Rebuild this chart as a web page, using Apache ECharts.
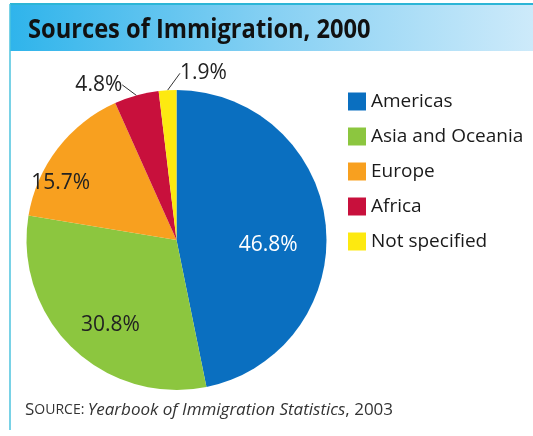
<!DOCTYPE html>
<html><head><meta charset="utf-8">
<script src="https://cdn.jsdelivr.net/npm/echarts@6/dist/echarts.min.js"></script>
<style>html,body{margin:0;padding:0;background:#fff}#c{width:533px;height:436px}</style>
</head><body><div id="c"></div>
<script>
const titleText = 'Sources of Immigration, 2000';
const categories = ['Americas', 'Asia and Oceania', 'Europe', 'Africa', 'Not specified'];
const values = [46.8, 30.8, 15.7, 4.8, 1.9];
const colors = ['#0a6fc0', '#8cc63f', '#f8a01f', '#c8103c', '#fde910'];
const labelColors = ['#ffffff', '#222222', '#222222', '#222222', '#222222'];
const labelShift = [[14, 13], [-12, 29], [-54, -9], [-6, 1], [65, -5]];

const chart = echarts.init(document.getElementById('c'));
const font = '"Open Sans", "Noto Sans", sans-serif';
chart.setOption({
  animation: false,
  backgroundColor: '#ffffff',
  graphic: [
    { type: 'rect', shape: { x: 10, y: 4, width: 523, height: 47 }, style: {
      fill: new echarts.graphic.LinearGradient(0, 0, 1, 0, [
        { offset: 0, color: '#2fb4eb' }, { offset: 0.5, color: '#86d0f3' }, { offset: 1, color: '#cdeafa' }]) } },
    { type: 'line', shape: { x1: 10, y1: 4, x2: 533, y2: 4 }, style: { stroke: '#2cb5d6', lineWidth: 2 } },
    { type: 'line', shape: { x1: 10, y1: 4, x2: 10, y2: 430 }, style: { stroke: '#4cc3de', lineWidth: 1.5 } },
    { type: 'text', x: 28, y: 31, scaleX: 0.91, style: { text: titleText, font: 'bold 26px ' + font, fill: '#111', verticalAlign: 'middle' } },
    { type: 'text', left: 25, top: 402, style: {
      text: '{a|S}{b|OURCE:} {c|Yearbook of Immigration Statistics}{a|, 2003}',
      rich: {
        a: { fontFamily: font, fontSize: 17, fill: '#333' },
        b: { fontFamily: font, fontSize: 14, fill: '#333' },
        c: { fontFamily: font, fontSize: 17, fontStyle: 'italic', fill: '#333' }
      } } }
  ],
  legend: {
    orient: 'vertical', left: 343, top: 87, itemWidth: 18, itemHeight: 18, itemGap: 16,
    icon: 'rect', selectedMode: false,
    textStyle: { fontFamily: font, fontSize: 19, color: '#1a1a1a' },
    data: categories
  },
  color: colors,
  series: [{
    type: 'pie',
    center: [176.5, 240], radius: 150, startAngle: 90, clockwise: true,
    avoidLabelOverlap: false,
    itemStyle: { borderWidth: 0 },
    emphasis: { disabled: true },
    labelLine: { show: false },
    label: { fontFamily: font, fontSize: 21 },
    labelLayout: function (p) {
      const s = labelShift[p.dataIndex];
      return { x: p.labelRect.x + s[0], y: p.labelRect.y + s[1], align: 'left', verticalAlign: 'top' };
    },
    data: categories.map((n, i) => {
      const inside = i < 3;
      return {
        name: n, value: values[i],
        label: { position: inside ? 'inside' : 'outside', color: labelColors[i], formatter: values[i].toFixed(1) + '%' },
        labelLine: inside ? { show: false } : { show: true, length: 12, length2: 0, lineStyle: { color: '#333', width: 1 } }
      };
    })
  }]
});
</script></body></html>
